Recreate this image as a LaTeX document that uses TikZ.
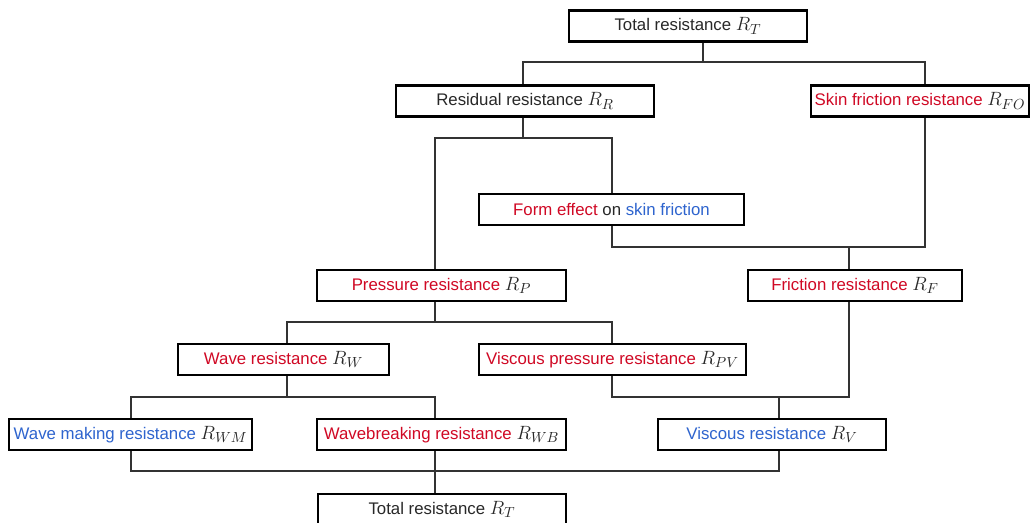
\documentclass[tikz,border=0pt]{standalone}
\usepackage{fontspec}
\setmainfont{Liberation Sans}
\usepackage{xcolor}
\usetikzlibrary{positioning, calc}
\definecolor{resred}{RGB}{208,8,36}
\definecolor{resblue}{RGB}{46,100,206}
\definecolor{resgray}{RGB}{40,40,40}
\newcommand{\rsym}[1]{\textcolor{resgray}{\fontsize{15}{15}\selectfont$R_{#1}$}}
\tikzset{
  rbox/.style={
    rectangle, draw=black, fill=white, line width=1.8pt,
    minimum height=23.25pt, inner sep=2pt,
    font=\fontsize{12.6}{15}\selectfont, text=resgray
  },
  link/.style={
    black!80, line width=0.8pt
  },
}
\begin{document}
\begin{tikzpicture}[x=0.75pt,y=-0.75pt]
  \useasboundingbox (0,0) rectangle (1036,523);
  \node[rbox,minimum width=178.5pt] (rt) at (688,26)
    {Total resistance \rsym{T}};
  \node[rbox,minimum width=193.5pt] (rr) at (525,101)
    {Residual resistance \rsym{R}};
  \node[rbox,minimum width=163.5pt,text=resred] (rfo) at (920,101)
    {Skin friction resistance \rsym{FO}};
  \node[rbox,minimum width=198.75pt] (form) at (611.5,209.5)
    {\textcolor{resred}{Form effect} on \textcolor{resblue}{skin friction}};
  \node[rbox,minimum width=186.75pt,text=resred] (rp) at (441.5,285.5)
    {Pressure resistance \rsym{P}};
  \node[rbox,minimum width=160.5pt,text=resred] (rf) at (855,285.5)
    {Friction resistance \rsym{F}};
  \node[rbox,minimum width=158.25pt,text=resred] (rw) at (283.5,359.5)
    {Wave resistance \rsym{W}};
  \node[rbox,minimum width=200.25pt,text=resred] (rpv) at (612.5,359.5)
    {Viscous pressure resistance \rsym{PV}};
  \node[rbox,minimum width=182.25pt,text=resblue] (rwm) at (130.5,434.5)
    {Wave making resistance \rsym{WM}};
  \node[rbox,minimum width=186.75pt,text=resred] (rwb) at (441.5,434.5)
    {Wavebreaking resistance \rsym{WB}};
  \node[rbox,minimum width=171pt,text=resblue] (rv) at (772,434.5)
    {Viscous resistance \rsym{V}};
  \node[rbox,minimum width=186pt] (rtb) at (442,509.5)
    {Total resistance \rsym{T}};

  \coordinate (t0) at (703,62);
  \coordinate (t1) at (523,62);
  \coordinate (t2) at (925,62);
  \draw[link] (rt.south -| t0) -- (t0);
  \draw[link] (rr.north -| t1) -- (t1) -- (t2) -- (rfo.north -| t2);

  \coordinate (r0) at (523,138);
  \coordinate (r1) at (435,138);
  \coordinate (r2) at (612,138);
  \draw[link] (rr.south -| r0) -- (r0);
  \draw[link] (rp.north -| r1) -- (r1) -- (r2) -- (form.north -| r2);

  \coordinate (f0) at (849,247);
  \coordinate (f1) at (612,247);
  \coordinate (f2) at (925,247);
  \draw[link] (form.south -| f1) -- (f1) -- (f2) -- (rfo.south -| f2);
  \draw[link] (f0) -- (rf.north -| f0);

  \coordinate (p0) at (435,322);
  \coordinate (p1) at (287,322);
  \coordinate (p2) at (612,322);
  \draw[link] (rp.south -| p0) -- (p0);
  \draw[link] (rw.north -| p1) -- (p1) -- (p2) -- (rpv.north -| p2);

  \coordinate (w0) at (287,397);
  \coordinate (w1) at (131,397);
  \coordinate (w2) at (435,397);
  \draw[link] (rw.south -| w0) -- (w0);
  \draw[link] (rwm.north -| w1) -- (w1) -- (w2) -- (rwb.north -| w2);

  \coordinate (v0) at (779,397);
  \coordinate (v1) at (612,397);
  \coordinate (v2) at (849,397);
  \draw[link] (rpv.south -| v1) -- (v1) -- (v2) -- (rf.south -| v2);
  \draw[link] (v0) -- (rv.north -| v0);

  \coordinate (s0) at (435,471);
  \coordinate (s1) at (131,471);
  \coordinate (s2) at (779,471);
  \draw[link] (rwm.south -| s1) -- (s1) -- (s2) -- (rv.south -| s2);
  \draw[link] (rwb.south -| s0) -- (rtb.north -| s0);
\end{tikzpicture}
\end{document}
